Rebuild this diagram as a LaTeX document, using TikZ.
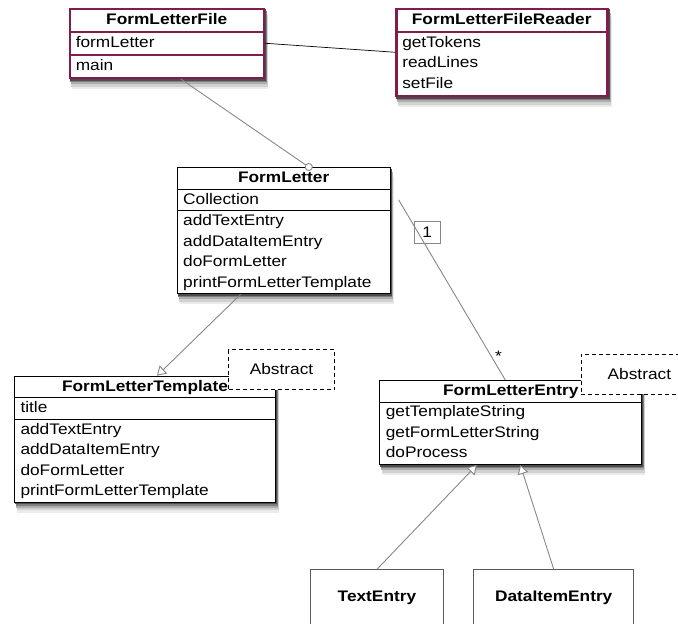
\documentclass[tikz,border=0pt]{standalone}
\usepackage{fontspec}
\setmainfont{Liberation Sans}[FakeStretch=1.13]
\usepackage{tikz}
\usetikzlibrary{positioning, calc, shapes.multipart, arrows.meta, backgrounds}
\definecolor{filered}{RGB}{130,28,78}
\definecolor{linegray}{RGB}{135,135,135}
\tikzstyle{Assoc} = [draw=black, line width=0.7pt]
\tikzstyle{Link} = [draw=linegray, line width=0.9pt]
\tikzstyle{Inherit} = [Link, -{Triangle[open, fill=white, length=9pt, width=11pt]}]
\tikzstyle{Owner} = [Link, -{Circle[open, fill=white, length=8pt]}]

\begin{document}
\begin{tikzpicture}[
x=1pt, y=-1pt,
font=\fontsize{15.3}{20.5}\selectfont,
umlclass/.style={
    rectangle split,
    rectangle split parts = 3,
    rectangle split part align = {center, left, left},
    draw, fill=white, line width=1pt,
    align=left,
    inner xsep=6pt, inner ysep=0pt,
    anchor=north west
    },
fileclass/.style={
    umlclass,
    draw=filered,
    line width=2.5pt
    },
note/.style={
    draw, dash pattern=on 4pt off 3pt,
    fill=white,
    minimum width=106pt, minimum height=40pt,
    anchor=north west
    },
leaf/.style={
    draw=black!65, fill=white, line width=0.9pt,
    inner sep=0pt,
    text height=32.2pt, text depth=25.8pt,
    anchor=north west
    },
mult/.style={
    draw=linegray, line width=0.7pt,
    inner sep=0pt,
    minimum width=26pt, minimum height=21.5pt
    }
]

\clip (0,0) rectangle (678,624);

\node [fileclass, minimum width=194pt] at (68.5,7.5) (1) {
    \strut\textbf{FormLetterFile}
    \nodepart{two}\strut formLetter
    \nodepart{three}\strut main
};
\node [fileclass, rectangle split parts=2, minimum width=211pt] at (395,7.5) (2) {
    \strut\textbf{FormLetterFileReader}
    \nodepart{two}\strut getTokens\\ readLines\\ setFile\strut
};
\node [umlclass, minimum width=213pt] at (176.7,167.3) (3) {
    \strut\textbf{FormLetter}
    \nodepart{two}\strut Collection
    \nodepart{three}\strut addTextEntry\\ addDataItemEntry\\ doFormLetter\\ printFormLetterTemplate\strut
};
\node [umlclass, minimum width=261pt] at (14,375.7) (4) {
    \strut\textbf{FormLetterTemplate}
    \nodepart{two}\strut title
    \nodepart{three}\strut addTextEntry\\ addDataItemEntry\\ doFormLetter\\ printFormLetterTemplate\strut
};
\node [umlclass, rectangle split parts=2, minimum width=262pt] at (379.3,380) (6) {
    \strut\textbf{FormLetterEntry}
    \nodepart{two}\strut getTemplateString\\ getFormLetterString\\ doProcess\strut
};

\begin{scope}[on background layer]
\foreach \n in {1,2,3,4,6} {
    \fill[black!8] ([shift={(3pt,-10pt)}]\n.south west) rectangle ([shift={(3pt,-10pt)}]\n.north east);
    \fill[black!18] ([shift={(2.5pt,-7.5pt)}]\n.south west) rectangle ([shift={(2.5pt,-7.5pt)}]\n.north east);
    \fill[black!32] ([shift={(2pt,-5pt)}]\n.south west) rectangle ([shift={(2pt,-5pt)}]\n.north east);
    \fill[black!50] ([shift={(1.5pt,-3pt)}]\n.south west) rectangle ([shift={(1.5pt,-3pt)}]\n.north east);
    \fill[black!70] ([shift={(1pt,-1.5pt)}]\n.south west) rectangle ([shift={(1pt,-1.5pt)}]\n.north east);
}
\end{scope}

\node [note] at (228.3,349.3) (5) {Abstract};
\node [note, minimum width=117pt] at (580.7,354) (7) {Abstract};

\node [leaf, minimum width=133pt] at (310,569.3) (8) {\textbf{TextEntry}};
\node [leaf, minimum width=160pt, right = 29.4pt of 8.east, anchor=west] (9) {\textbf{DataItemEntry}};

\draw[Assoc] ($(1.one split east)!0.5!(1.two split east)$) -- (2.west);
\draw[Owner] ([xshift=14pt]1.south) -- ([xshift=28.4pt, yshift=-2pt]3.north);

\draw[Link] ([xshift=8pt, yshift=-10.6pt]3.one split east) -- ([xshift=-5.5pt]6.north)
    node [mult, pos=0.18, anchor=west, xshift=-4pt] (10) {1}
    node [pos=0.87, right=0pt] (11) {*};

\draw[Inherit] ([xshift=-43pt]3.south) -- ([xshift=12pt]4.north);
\draw[Inherit] (8.north) -- ([xshift=-34pt]6.south);
\draw[Inherit] (9.north) -- ([xshift=9.5pt]6.south);

\end{tikzpicture}
\end{document}
